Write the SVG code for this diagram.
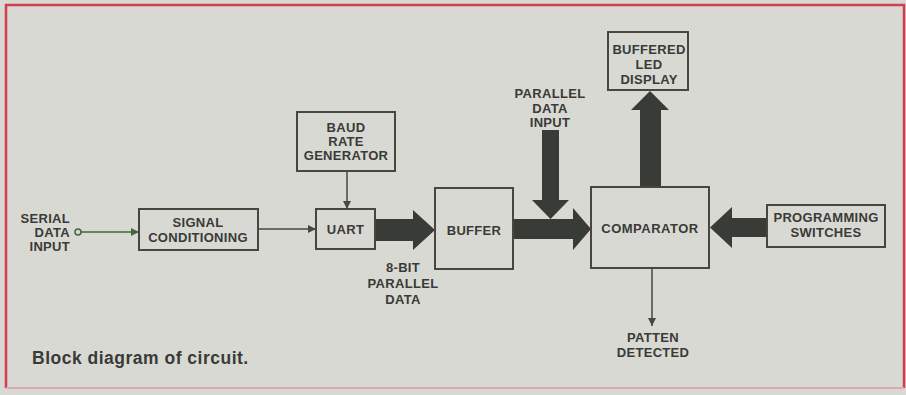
<svg xmlns="http://www.w3.org/2000/svg" width="906" height="395" viewBox="0 0 906 395">
<style>
.box{fill:none;stroke:#4a463f;stroke-width:2}
.lbl{font-family:"Liberation Sans",Arial,sans-serif;font-weight:bold;font-size:13px;fill:#3a3a38;text-anchor:middle;letter-spacing:0.3px}
.thin{fill:none;stroke:#4a4640;stroke-width:1.5}
.big{fill:#393b36}
</style>
<defs>
<marker id="ah" viewBox="0 0 10 10" refX="10" refY="5" markerWidth="9" markerHeight="8" markerUnits="userSpaceOnUse" orient="auto">
<path d="M0,0 L10,5 L0,10 Z" fill="#4a4640"/>
</marker>
<marker id="ahg" viewBox="0 0 10 10" refX="10" refY="5" markerWidth="9" markerHeight="8" markerUnits="userSpaceOnUse" orient="auto">
<path d="M0,0 L10,5 L0,10 Z" fill="#3e6a3a"/>
</marker>
</defs>
<rect x="0" y="0" width="906" height="395" fill="#d8d9d2"/>
<path d="M6,388 L6,5 L904,5 L904,388" fill="none" stroke="#d23d50" stroke-width="2.5"/>
<line x1="6" y1="388" x2="904" y2="388" stroke="#e0a8b0" stroke-width="2"/>

<g id="connectors">
<line class="thin" x1="81" y1="232" x2="139" y2="232" style="stroke:#3e6a3a" marker-end="url(#ahg)"/>
<line class="thin" x1="258" y1="229" x2="316" y2="229" marker-end="url(#ah)"/>
<line class="thin" x1="347" y1="171" x2="347" y2="209" marker-end="url(#ah)"/>
<line class="thin" x1="652" y1="268" x2="652" y2="326" marker-end="url(#ah)"/>
<polygon class="big" points="375,219 413,219 413,210 435,230 413,250 413,241 375,241"/>
<polygon class="big" points="513,219 573,219 573,208 591,229 573,250 573,239 513,239"/>
<polygon class="big" points="542,130 559,130 559,200 569,200 550.5,219 532,200 542,200"/>
<polygon class="big" points="640,187 640,110 631,110 650,91 669,110 661,110 661,187"/>
<polygon class="big" points="767,218 732,218 732,207 710,227.5 732,248 732,237 767,237"/>
</g>

<g id="serial-input">
<circle cx="78" cy="232" r="3" fill="none" stroke="#3e6a3a" stroke-width="1.5"/>
<text class="lbl" style="text-anchor:end" x="70" y="223">SERIAL</text>
<text class="lbl" style="text-anchor:end" x="70" y="237">DATA</text>
<text class="lbl" style="text-anchor:end" x="70" y="251">INPUT</text>
</g>

<g id="signal-conditioning">
<rect class="box" x="139" y="209" width="119" height="41"/>
<text class="lbl" x="198" y="226.5">SIGNAL</text>
<text class="lbl" x="198" y="241.5">CONDITIONING</text>
</g>

<g id="baud-rate-generator">
<rect class="box" x="297" y="112" width="98" height="59"/>
<text class="lbl" x="346" y="132">BAUD</text>
<text class="lbl" x="346" y="146">RATE</text>
<text class="lbl" x="346" y="160">GENERATOR</text>
</g>

<g id="uart">
<rect class="box" x="316" y="209" width="59" height="40"/>
<text class="lbl" x="345.5" y="233.5">UART</text>
</g>

<g id="parallel-8bit-label">
<text class="lbl" x="403" y="271.5">8-BIT</text>
<text class="lbl" x="403" y="287.5">PARALLEL</text>
<text class="lbl" x="403" y="303.5">DATA</text>
</g>

<g id="buffer">
<rect class="box" x="435" y="188" width="78" height="81"/>
<text class="lbl" x="474" y="234.5">BUFFER</text>
</g>

<g id="parallel-data-input">
<text class="lbl" x="550" y="97.5">PARALLEL</text>
<text class="lbl" x="550" y="112.5">DATA</text>
<text class="lbl" x="550" y="126.5">INPUT</text>
</g>

<g id="comparator">
<rect class="box" x="591" y="187" width="118" height="81"/>
<text class="lbl" x="650" y="232.5" style="letter-spacing:0.5px">COMPARATOR</text>
</g>

<g id="buffered-led-display">
<rect class="box" x="608" y="32" width="80" height="58"/>
<text class="lbl" x="649" y="53.5">BUFFERED</text>
<text class="lbl" x="649" y="68.5">LED</text>
<text class="lbl" x="649" y="83.5">DISPLAY</text>
</g>

<g id="programming-switches">
<rect class="box" x="767" y="205" width="118" height="42"/>
<text class="lbl" x="826" y="221.5">PROGRAMMING</text>
<text class="lbl" x="826" y="236.5">SWITCHES</text>
</g>

<g id="patten-detected">
<text class="lbl" x="653" y="341.5">PATTEN</text>
<text class="lbl" x="653" y="356.5">DETECTED</text>
</g>

<text x="32" y="364" font-family="'Liberation Sans',Arial,sans-serif" font-weight="bold" font-size="17.5" letter-spacing="0.5" fill="#3a3a38">Block diagram of circuit.</text>
</svg>
